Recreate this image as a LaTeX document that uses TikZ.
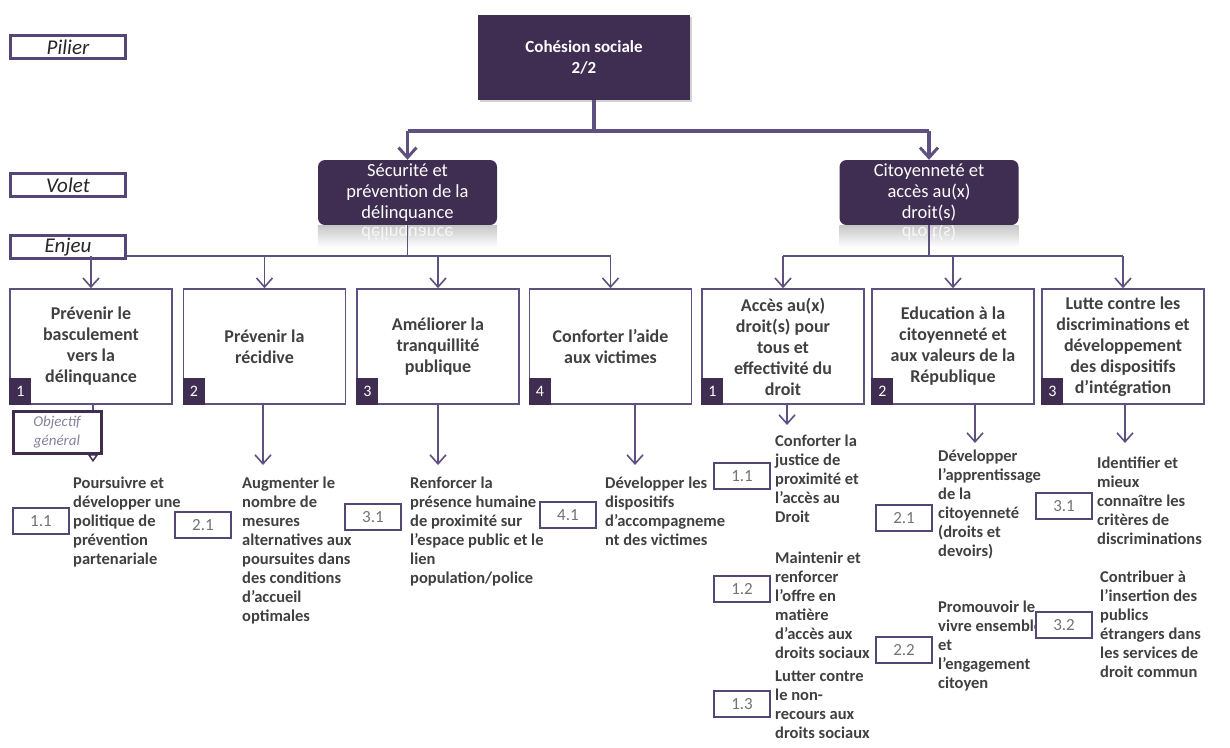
\documentclass[tikz,border=0pt]{standalone}
\usepackage{fontspec}
\setmainfont{Carlito}
\usetikzlibrary{arrows.meta,shadows}
\definecolor{dk}{HTML}{3F2D52}
\definecolor{lc}{HTML}{5E5080}
\definecolor{lb}{HTML}{554677}
\definecolor{tx}{HTML}{404040}
\definecolor{ogc}{HTML}{8A80A0}
\tikzset{
 ln/.style={draw=lc, line width=1.6pt},
 arr/.style={ln, -{Straight Barb[length=9pt,width=16pt,line width=1.6pt]}},
 thk/.style={draw=lc, line width=3.5pt},
 arrT/.style={draw=lc, line width=3.5pt, -{Straight Barb[length=10pt,width=18pt,line width=3pt]}},
 lab/.style={draw=lb, line width=3pt, minimum width=115pt, minimum height=23pt, inner sep=0pt, font=\itshape\fontsize{21}{21}\selectfont, text=black!85},
 pil/.style={fill=dk, minimum width=212pt, minimum height=85pt, inner sep=0pt, text=white, align=center, font=\bfseries\fontsize{17}{21}\selectfont, drop shadow={opacity=0.35, shadow xshift=2pt, shadow yshift=-2pt}},
 vol/.style={fill=dk, rounded corners=7pt, minimum width=179pt, minimum height=65pt, inner sep=0pt, text=white, align=center, font=\fontsize{18.5}{21}\selectfont},
 enj/.style={draw=lc, line width=1.6pt, minimum width=162pt, minimum height=115pt, inner sep=0pt, align=center, text=tx, font=\bfseries\fontsize{18}{21}\selectfont},
 tag/.style={fill=dk, text=white, minimum width=22pt, minimum height=27pt, inner sep=0pt, anchor=south west, font=\fontsize{16}{16}\selectfont},
 num/.style={draw=lb, fill=white, line width=2.6pt, minimum width=56pt, minimum height=26pt, inner sep=0pt, text=black!55, font=\fontsize{17}{17}\selectfont},
 obj/.style={anchor=north west, align=left, inner sep=0pt, text=tx, font=\bfseries\fontsize{16.5}{19}\selectfont},
 ogb/.style={draw=dk, line width=3pt, fill=white, minimum width=88pt, minimum height=42pt, inner sep=0pt, align=center, text=ogc, font=\itshape\fontsize{15}{19}\selectfont},
}
\begin{document}
\begin{tikzpicture}[x=1pt,y=-1pt]
\useasboundingbox (0,0) rectangle (1230,747);
% side labels
\node[lab] (lpil) at (68,47) {Pilier};
\node[lab] (lvol) at (68,185) {Volet};
\node[lab] (lenj) at (68,247) {Enjeu};
% pillar
\node[pil] (coh) at (584,57) {Cohésion sociale\\2/2};
% volets
\node[vol] (v1) at (407.5,192.5) {Sécurité et\\prévention de la\\délinquance};
\node[vol] (v2) at (929,192.5) {Citoyenneté et\\accès au(x)\\droit(s)};
\foreach \v/\t in {v1/délinquance, v2/droit(s)}{
 \shade[top color=black!22, bottom color=white] (\v.south west) rectangle ([yshift=-22pt]\v.south east);
 \begin{scope}
 \clip (\v.south west) rectangle ([yshift=-14pt]\v.south east);
 \node[transform shape, yscale=-1, text=white, opacity=0.8, font=\fontsize{18.5}{21}\selectfont, anchor=base] at ([yshift=-2pt]\v.south) {\t};
 \end{scope}
}
% top connectors
\coordinate (s) at (594,131);
\draw[thk] (coh.south -| s) -- (s);
\draw[thk] (v1.north |- s) -- (v2.north |- s);
\draw[arrT] (v1.north |- s) -- (v1.north);
\draw[arrT] (v2.north |- s) -- (v2.north);
% enjeu boxes
\node[enj] (e1) at (91,346.5) {Prévenir le\\basculement\\vers la\\délinquance};
\node[enj] (e2) at (264.5,346.5) {Prévenir la\\récidive};
\node[enj] (e3) at (438,346.5) {Améliorer la\\tranquillité\\publique};
\node[enj] (e4) at (610.5,346.5) {Conforter l’aide\\aux victimes};
\node[enj] (e5) at (783,346.5) {Accès au(x)\\droit(s) pour\\tous et\\effectivité du\\droit};
\node[enj] (e6) at (953,346.5) {Education à la\\citoyenneté et\\aux valeurs de la\\République};
\node[enj] (e7) at (1123,346.5) {Lutte contre les\\discriminations et\\développement\\des dispositifs\\d'intégration};
\node[tag] (t1) at (e1.south west) {1};
\node[tag] (t2) at (e2.south west) {2};
\node[tag] (t3) at (e3.south west) {3};
\node[tag] (t4) at (e4.south west) {4};
\node[tag] (t5) at (e5.south west) {1};
\node[tag] (t6) at (e6.south west) {2};
\node[tag] (t7) at (e7.south west) {3};
% enjeu connectors
\coordinate (bl) at (407.5,256);
\coordinate (br) at (929,256);
\draw[ln] (v1.south) -- (bl);
\draw[ln] (v2.south) -- (br);
\draw[ln] (lenj.south east |- bl) -- (e4.north |- bl);
\draw[ln] (e5.north |- br) -- (e7.north |- br);
\foreach \e in {e1,e2,e3,e4}{\draw[arr] (\e.north |- bl) -- (\e.north);}
\foreach \e in {e5,e6,e7}{\draw[arr] (\e.north |- br) -- (\e.north);}
% objectif general
\node[ogb] (og) at (57,432) {Objectif\\général};
\coordinate (c1) at (93,462);
\draw[ln] (e1.south -| c1) -- (og.north -| c1);
\draw[draw=dk, line width=1.5pt, -{Triangle[open,length=8pt,width=11pt,line width=1.5pt]}] (og.south -| c1) -- (c1);
% objectives left
\node[obj] (o1) at (73,477) {Poursuivre et\\développer une\\politique de\\prévention\\partenariale};
\node[obj] (o2) at (242,477) {Augmenter le\\nombre de\\mesures\\alternatives aux\\poursuites dans\\des conditions\\d’accueil\\optimales};
\node[obj] (o3) at (410,477) {Renforcer la\\présence humaine\\de proximité sur\\l’espace public et le\\lien\\population/police};
\node[obj] (o4) at (605,477) {Développer les\\dispositifs\\d’accompagneme\\nt des victimes};
% objectives right
\node[obj] (o51) at (775,435) {Conforter la\\justice de\\proximité et\\l’accès au\\Droit};
\node[obj] (o52) at (775,552) {Maintenir et\\renforcer\\l’offre en\\matière\\d’accès aux\\droits sociaux};
\node[obj] (o53) at (775,671) {Lutter contre\\le non-\\recours aux\\droits sociaux};
\node[obj] (o61) at (938,450) {Développer\\l’apprentissage\\de la\\citoyenneté\\(droits et\\devoirs)};
\node[obj] (o62) at (938,601) {Promouvoir le\\vivre ensemble\\et\\l’engagement\\citoyen};
\node[obj] (o71) at (1097,457) {Identifier et\\mieux\\connaître les\\critères de\\discriminations};
\node[obj] (o72) at (1100,571) {Contribuer à\\l’insertion des\\publics\\étrangers dans\\les services de\\droit commun};
% number boxes
\node[num] (n11) at (41,521) {1.1};
\node[num] (n21) at (203,525) {2.1};
\node[num] (n31) at (373,517) {3.1};
\node[num] (n41) at (568,515) {4.1};
\node[num] (m11) at (742,476) {1.1};
\node[num] (m12) at (742,589) {1.2};
\node[num] (m13) at (742,704) {1.3};
\node[num] (m21) at (904,518) {2.1};
\node[num] (m22) at (904,650) {2.2};
\node[num] (m31) at (1064,506) {3.1};
\node[num] (m32) at (1064,625) {3.2};
% enjeu to objective arrows
\coordinate (c2) at (263,465);
\coordinate (c3) at (438,465);
\coordinate (c4) at (635,465);
\coordinate (c5) at (787,425);
\coordinate (c6) at (975,443);
\coordinate (c7) at (1125,443);
\draw[arr] (e2.south -| c2) -- (c2);
\draw[arr] (e3.south -| c3) -- (c3);
\draw[arr] (e4.south -| c4) -- (c4);
\draw[arr] (e5.south -| c5) -- (c5);
\draw[arr] (e6.south -| c6) -- (c6);
\draw[arr] (e7.south -| c7) -- (c7);
\end{tikzpicture}
\end{document}
